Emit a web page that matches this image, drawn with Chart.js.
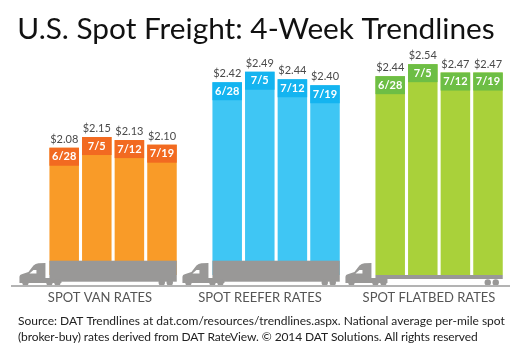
<!DOCTYPE html>
<html>
<head>
<meta charset="utf-8">
<style>
  html, body { margin: 0; padding: 0; background: #fff; }
  canvas { display: block; }
</style>
<script src="https://cdn.jsdelivr.net/npm/chart.js@4/dist/chart.umd.min.js"></script>
</head>
<body>
<canvas id="freight-chart" width="522" height="356"></canvas>
<script>
const weeks = ['6/28', '7/5', '7/12', '7/19'];
const vanRates = [2.08, 2.15, 2.13, 2.10];
const reeferRates = [2.42, 2.49, 2.44, 2.40];
const flatbedRates = [2.44, 2.54, 2.47, 2.47];
const groupNames = ['SPOT VAN RATES', 'SPOT REEFER RATES', 'SPOT FLATBED RATES'];
const titleText = 'U.S. Spot Freight: 4-Week Trendlines';
const footerLines = [
    'Source: DAT Trendlines at dat.com/resources/trendlines.aspx. National average per-mile spot',
    '(broker-buy) rates derived from DAT RateView. \u00A9 2014 DAT Solutions. All rights reserved'
];

const FONT = 'Lato, sans-serif';
const GREY = '#999897';

// one blank slot between the groups
const labels = [...weeks, '', ...weeks, '', ...weeks];

function padGroup(values, groupIndex) {
    const data = labels.map(() => null);
    values.forEach((v, i) => { data[groupIndex * 5 + i] = v; });
    return data;
}

function drawTruck(ctx, x0, x1, flatbed) {
    const wheelY = 283;
    ctx.fillStyle = GREY;
    // cab
    ctx.beginPath();
    ctx.moveTo(x0 - 30, wheelY);
    ctx.lineTo(x0 - 30, 277);
    ctx.quadraticCurveTo(x0 - 30, 274.5, x0 - 27, 274);
    ctx.lineTo(x0 - 21, 272);
    ctx.lineTo(x0 - 16, 265.5);
    ctx.quadraticCurveTo(x0 - 14, 263.5, x0 - 11, 263.3);
    ctx.lineTo(x0 - 4, 263);
    ctx.lineTo(x0 - 4, 278);
    ctx.lineTo(x0 + 12, 278);
    ctx.lineTo(x0 + 12, wheelY);
    ctx.closePath();
    ctx.fill();
    // window
    ctx.fillStyle = '#fff';
    ctx.beginPath();
    ctx.moveTo(x0 - 20, 273.5);
    ctx.lineTo(x0 - 16, 270);
    ctx.lineTo(x0 - 13, 270);
    ctx.lineTo(x0 - 13, 273.5);
    ctx.closePath();
    ctx.fill();
    // trailer or flat deck
    ctx.fillStyle = GREY;
    if (flatbed) ctx.fillRect(x0, 275, x1 - x0, 4);
    else ctx.fillRect(x0, 260.7, x1 - x0, 21);
    // wheels
    [-24, 0, 8, x1 - x0 - 15, x1 - x0 - 7].forEach((dx) => {
        ctx.beginPath();
        ctx.arc(x0 + dx, wheelY - 0.5, 3.2, 0, Math.PI * 2);
        ctx.fill();
    });
}

const groupLabelX = [100, 260, 429];

const freightMarks = {
    id: 'freightMarks',
    afterDatasetsDraw(chart) {
        const ctx = chart.ctx;
        ctx.save();
        ctx.textAlign = 'center';
        ctx.textBaseline = 'middle';
        chart.data.datasets.forEach((ds, d) => {
            const bars = chart.getDatasetMeta(d).data.filter((b, i) => ds.data[i] !== null);
            const rates = ds.data.filter((v) => v !== null);
            bars.forEach((bar, i) => {
                const left = bar.x - bar.width / 2;
                ctx.fillStyle = ds.bandColor;
                ctx.fillRect(left, bar.y, bar.width, 18);
                ctx.fillStyle = '#fff';
                ctx.font = 'bold 11px ' + FONT;
                ctx.fillText(weeks[i], bar.x, bar.y + 9);
                ctx.fillStyle = '#4a4a4a';
                ctx.font = '11px ' + FONT;
                ctx.fillText('$' + rates[i].toFixed(2), bar.x, bar.y - 8.5);
            });
            const first = bars[0];
            const last = bars[bars.length - 1];
            drawTruck(ctx, first.x - first.width / 2, last.x + last.width / 2, d === 2);
            ctx.fillStyle = '#555';
            ctx.font = '13px ' + FONT;
            ctx.fillText(groupNames[d], groupLabelX[d], 298);
        });
        // road line
        ctx.fillStyle = '#b3b3b3';
        ctx.fillRect(11, 285, 499, 2);
        // source note
        ctx.fillStyle = '#222';
        ctx.font = '12px ' + FONT;
        ctx.textAlign = 'left';
        ctx.fillText(footerLines[0], 18, 321);
        ctx.letterSpacing = '-0.1px';
        ctx.fillText(footerLines[1], 18, 337);
        ctx.restore();
    }
};

new Chart(document.getElementById('freight-chart'), {
    type: 'bar',
    data: {
        labels,
        datasets: [
            { label: groupNames[0], data: padGroup(vanRates, 0), yAxisID: 'yVan', backgroundColor: '#f99b28', bandColor: '#f26a21' },
            { label: groupNames[1], data: padGroup(reeferRates, 1), yAxisID: 'yReefer', backgroundColor: '#3fc6f4', bandColor: '#14b4f0' },
            { label: groupNames[2], data: padGroup(flatbedRates, 2), yAxisID: 'yFlatbed', backgroundColor: '#a9d13a', bandColor: '#6dbe45' }
        ].map((ds) => ({ ...ds, grouped: false, categoryPercentage: 1, barPercentage: 0.905 }))
    },
    options: {
        responsive: false,
        animation: false,
        layout: { padding: { left: 0, right: 10, top: 0, bottom: 81 } },
        plugins: {
            legend: { display: false },
            tooltip: { enabled: false },
            title: {
                display: true,
                text: titleText,
                color: '#111',
                font: { family: FONT, size: 29.8, weight: 'normal', lineHeight: 1.2 },
                padding: { top: 12, bottom: 2.24 }
            }
        },
        scales: {
            x: { display: false },
            // hidden axes, their fitted widths keep the title centred on the whole canvas
            yVan: { display: false, min: 1.248, max: 2.719, afterFit: (s) => { s.width = 47.9; } },
            yReefer: { display: false, position: 'right', min: 1.135, max: 2.635, afterFit: (s) => { s.width = 7.7; } },
            yFlatbed: { display: false, position: 'right', min: 0.783, max: 2.658, afterFit: (s) => { s.width = 0; } }
        }
    },
    plugins: [freightMarks]
});
</script>
</body>
</html>
